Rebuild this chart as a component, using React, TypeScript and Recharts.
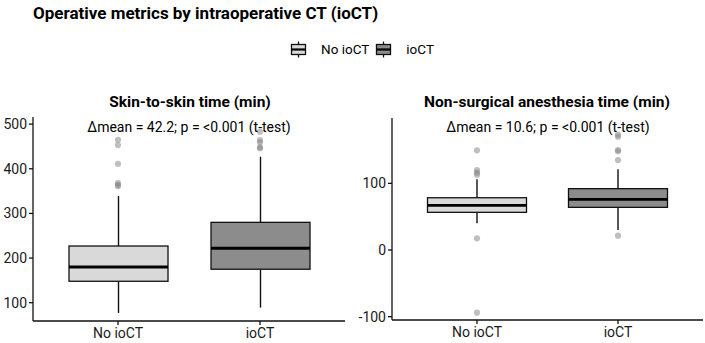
import React from "react";
import { ComposedChart, Bar, Scatter, XAxis, YAxis } from "recharts";

// Groups compared on the x axis
const groups = ["No ioCT", "ioCT"];
const groupFills = ["#d9d9d9", "#8c8c8c"];

// Skin-to-skin time (min): box statistics per group
const skinLow = [77, 89];
const skinQ1 = [148, 175];
const skinMedian = [180, 222];
const skinQ3 = [227, 280];
const skinHigh = [339, 427];
const skinOutliersNo = [465, 453, 411, 368, 364, 361];
const skinOutliersIo = [483, 464, 459, 448, 446];

// Non-surgical anesthesia time (min): box statistics per group
const anesLow = [40, 30];
const anesQ1 = [56.5, 64];
const anesMedian = [67, 76];
const anesQ3 = [78.4, 92];
const anesHigh = [106, 121];
const anesOutliersNo = [149.5, 120, 116, 113, 17.5, -94];
const anesOutliersIo = [173, 170, 150, 148, 135, 21.5];

const skinTicks = [100, 200, 300, 400, 500];
const anesTicks = [-100, 0, 100];

const FONT = "Roboto, 'DejaVu Sans', sans-serif";

type BoxRow = {
  group: string;
  range: [number, number];
  low: number;
  q1: number;
  median: number;
  q3: number;
  high: number;
  fill: string;
};

function buildRows(
  low: number[],
  q1: number[],
  median: number[],
  q3: number[],
  high: number[]
): BoxRow[] {
  return groups.map((g, i) => ({
    group: g,
    range: [low[i], high[i]],
    low: low[i],
    q1: q1[i],
    median: median[i],
    q3: q3[i],
    high: high[i],
    fill: groupFills[i],
  }));
}

function buildOutliers(no: number[], io: number[]) {
  return [
    ...no.map((v) => ({ group: groups[0], value: v })),
    ...io.map((v) => ({ group: groups[1], value: v })),
  ];
}

// The bar spans whisker-low..whisker-high; the box parts are placed
// proportionally inside that span, which follows the axis scale.
const BoxShape = (props: any) => {
  const { x, y, width, height, payload } = props;
  if (!payload || height == null) return null;
  const { low, high, q1, q3, median, fill } = payload as BoxRow;
  const k = height / (high - low);
  const py = (v: number) => y + (high - v) * k;
  const cx = x + width / 2;
  return (
    <g>
      <line x1={cx} x2={cx} y1={py(high)} y2={py(q3)} stroke="#111" strokeWidth={1.4} />
      <line x1={cx} x2={cx} y1={py(q1)} y2={py(low)} stroke="#111" strokeWidth={1.4} />
      <rect
        x={x}
        y={py(q3)}
        width={width}
        height={py(q1) - py(q3)}
        fill={fill}
        stroke="#111"
        strokeWidth={1.3}
      />
      <line x1={x} x2={x + width} y1={py(median)} y2={py(median)} stroke="#000" strokeWidth={2.8} />
    </g>
  );
};

const OutlierDot = (props: any) => {
  const { cx, cy } = props;
  if (cx == null || cy == null) return null;
  return <circle cx={cx} cy={cy} r={3.1} fill="#7f7f7f" fillOpacity={0.5} />;
};

const axisTick = { fontSize: 14, fill: "#1a1a1a", fontFamily: FONT };

type PanelProps = {
  rows: BoxRow[];
  outliers: { group: string; value: number }[];
  domain: [number, number];
  ticks: number[];
  width: number;
  yAxisWidth: number;
  top: number;
  right: number;
  xHeight: number;
  pad: number;
};

function Panel(p: PanelProps) {
  return (
    <ComposedChart
      width={p.width}
      height={343}
      data={p.rows}
      margin={{ top: p.top, right: p.right, bottom: 0, left: 0 }}
    >
      <XAxis
        dataKey="group"
        type="category"
        allowDuplicatedCategory={false}
        height={p.xHeight}
        padding={{ left: p.pad, right: p.pad }}
        tick={axisTick}
        tickSize={4}
        tickMargin={3}
        axisLine={{ stroke: "#111", strokeWidth: 1.3 }}
        tickLine={{ stroke: "#111", strokeWidth: 1.3 }}
        interval={0}
      />
      <YAxis
        type="number"
        domain={p.domain}
        ticks={p.ticks}
        allowDataOverflow
        width={p.yAxisWidth}
        tick={axisTick}
        tickSize={4}
        tickMargin={2}
        axisLine={{ stroke: "#111", strokeWidth: 1.3 }}
        tickLine={{ stroke: "#111", strokeWidth: 1.3 }}
      />
      <Bar dataKey="range" barSize={99} shape={BoxShape} isAnimationActive={false} />
      <Scatter
        data={p.outliers}
        dataKey="value"
        shape={OutlierDot}
        isAnimationActive={false}
      />
    </ComposedChart>
  );
}

const LegendKey = ({ fill }: { fill: string }) => (
  <svg width={17} height={17} style={{ display: "block" }}>
    <line x1={8.5} x2={8.5} y1={0.5} y2={16.5} stroke="#111" strokeWidth={1.3} />
    <rect x={1.5} y={3.5} width={14} height={10} fill={fill} stroke="#111" strokeWidth={1.3} />
    <line x1={1.5} x2={15.5} y1={8.5} y2={8.5} stroke="#000" strokeWidth={2.2} />
  </svg>
);

const abs = (left: number, top: number): React.CSSProperties => ({
  position: "absolute",
  left,
  top,
  whiteSpace: "nowrap",
  fontFamily: FONT,
  color: "#000",
  lineHeight: 1,
});

export default function App() {
  const skinRows = buildRows(skinLow, skinQ1, skinMedian, skinQ3, skinHigh);
  const anesRows = buildRows(anesLow, anesQ1, anesMedian, anesQ3, anesHigh);
  return (
    <div
      style={{
        position: "absolute",
        left: 0,
        top: 0,
        width: 705,
        height: 343,
        background: "#fff",
        overflow: "hidden",
      }}
    >
      <div style={{ ...abs(33, 5), fontSize: 17, fontWeight: 700 }}>
        Operative metrics by intraoperative CT (ioCT)
      </div>

      <div
        style={{
          ...abs(290, 41),
          display: "flex",
          alignItems: "center",
          fontSize: 13.5,
        }}
      >
        <LegendKey fill={groupFills[0]} />
        <span style={{ marginLeft: 14, marginRight: 6 }}>{groups[0]}</span>
        <LegendKey fill={groupFills[1]} />
        <span style={{ marginLeft: 14 }}>{groups[1]}</span>
      </div>

      <div style={{ position: "absolute", left: 0, top: 0 }}>
        <Panel
          rows={skinRows}
          outliers={buildOutliers(skinOutliersNo, skinOutliersIo)}
          domain={[59, 516]}
          ticks={skinTicks}
          width={352}
          yAxisWidth={33}
          top={117}
          right={7}
          xHeight={22}
          pad={14}
        />
      </div>
      <div style={{ position: "absolute", left: 352, top: 0 }}>
        <Panel
          rows={anesRows}
          outliers={buildOutliers(anesOutliersNo, anesOutliersIo)}
          domain={[-105, 198]}
          ticks={anesTicks}
          width={353}
          yAxisWidth={40}
          top={118}
          right={2}
          xHeight={23}
          pad={14.5}
        />
      </div>

      <div style={{ ...abs(190, 95), transform: "translateX(-50%)", fontSize: 15.5, fontWeight: 700 }}>
        Skin-to-skin time (min)
      </div>
      <div style={{ ...abs(547, 95), transform: "translateX(-50%)", fontSize: 15.5, fontWeight: 700 }}>
        Non-surgical anesthesia time (min)
      </div>
      <div style={{ ...abs(189, 120), transform: "translateX(-50%)", fontSize: 14 }}>
        Δmean = 42.2; p = &lt;0.001 (t-test)
      </div>
      <div style={{ ...abs(548, 120), transform: "translateX(-50%)", fontSize: 14 }}>
        Δmean = 10.6; p = &lt;0.001 (t-test)
      </div>
    </div>
  );
}
